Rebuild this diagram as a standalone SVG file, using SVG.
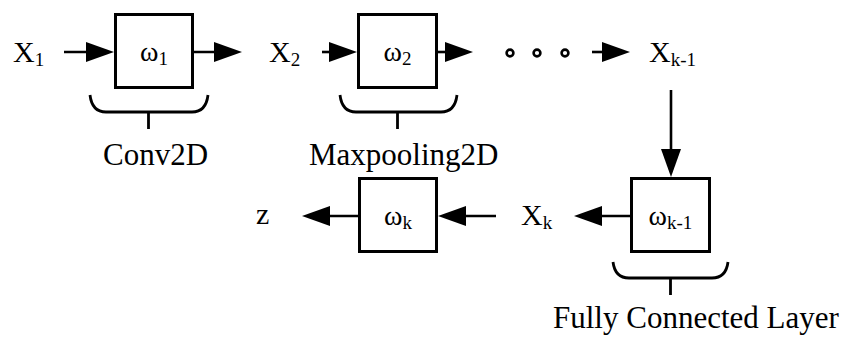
<svg xmlns="http://www.w3.org/2000/svg" width="847" height="337" viewBox="0 0 847 337">
  <defs>
    <marker id="head" viewBox="0 0 28 20" refX="20" refY="10" markerWidth="28" markerHeight="20" markerUnits="userSpaceOnUse" orient="auto">
      <path d="M0,0 L28,10 L0,20 Z" fill="#000"/>
    </marker>
    <style>
      .box { fill: #fff; stroke: #000; stroke-width: 3; }
      .wire { fill: none; stroke: #000; stroke-width: 2.6; marker-end: url(#head); }
      .brace { fill: none; stroke: #000; stroke-width: 2.8; }
      .dot { fill: #fff; stroke: #000; stroke-width: 2.6; }
      text { font-family: "Liberation Serif", "Times New Roman", serif; fill: #000; }
      .var { font-size: 30px; }
      .w { font-size: 28px; text-anchor: middle; }
      .sub { font-size: 19px; }
      .lbl { font-size: 31px; }
    </style>
  </defs>

  <rect width="847" height="337" fill="#fff"/>

  <!-- signal flow -->
  <g id="connectors">
    <line class="wire" x1="64" y1="52" x2="106" y2="52"/>
    <line class="wire" x1="193" y1="52" x2="234" y2="52"/>
    <line class="wire" x1="322" y1="52" x2="349" y2="52"/>
    <line class="wire" x1="438" y1="52" x2="465" y2="52"/>
    <line class="wire" x1="592" y1="52" x2="622" y2="52"/>
    <line class="wire" x1="671" y1="90" x2="671" y2="169"/>
    <line class="wire" x1="630" y1="216" x2="582" y2="216"/>
    <line class="wire" x1="496" y1="216" x2="446" y2="216"/>
    <line class="wire" x1="358" y1="216" x2="310" y2="216"/>
  </g>

  <!-- variables -->
  <g id="x1"><text class="var" x="13" y="62">X<tspan class="sub" dy="4">1</tspan></text></g>
  <g id="x2"><text class="var" x="269" y="62">X<tspan class="sub" dy="4">2</tspan></text></g>
  <g id="xk1"><text class="var" x="649" y="62">X<tspan class="sub" dy="4">k-1</tspan></text></g>
  <g id="xk"><text class="var" x="521" y="225">X<tspan class="sub" dy="4">k</tspan></text></g>
  <g id="z"><text class="var" x="256" y="224">z</text></g>

  <!-- ellipsis -->
  <g id="ellipsis">
    <circle class="dot" cx="510" cy="53" r="3.4"/>
    <circle class="dot" cx="537" cy="53" r="3.4"/>
    <circle class="dot" cx="565" cy="53" r="3.4"/>
  </g>

  <!-- layer blocks -->
  <g id="w1">
    <rect class="box" x="115.5" y="14.5" width="77" height="73"/>
    <text class="w" x="154" y="61">ω<tspan class="sub" dy="4">1</tspan></text>
  </g>
  <g id="w2">
    <rect class="box" x="358.5" y="14.5" width="78" height="73"/>
    <text class="w" x="397.5" y="61">ω<tspan class="sub" dy="4">2</tspan></text>
  </g>
  <g id="wk1">
    <rect class="box" x="631.5" y="178.5" width="78" height="73"/>
    <text class="w" x="670.5" y="225">ω<tspan class="sub" dy="4">k-1</tspan></text>
  </g>
  <g id="wk">
    <rect class="box" x="359.5" y="178.5" width="77" height="73"/>
    <text class="w" x="398" y="225">ω<tspan class="sub" dy="4">k</tspan></text>
  </g>

  <!-- group braces and captions -->
  <g id="conv2d">
    <path class="brace" d="M90,95 Q92,112 106,112 L192,112 Q206,112 208,95 M148.5,112 V129"/>
    <text class="lbl" x="103" y="165">Conv2D</text>
  </g>
  <g id="maxpool">
    <path class="brace" d="M340,95 Q342,112 356,112 L441,112 Q455,112 457,95 M397.5,112 V129"/>
    <text class="lbl" x="309" y="165">Maxpooling2D</text>
  </g>
  <g id="dense">
    <path class="brace" d="M613,262 Q615,278 629,278 L712,278 Q726,278 728,262 M670.5,278 V295"/>
    <text class="lbl" x="553" y="328">Fully Connected Layer</text>
  </g>
</svg>
